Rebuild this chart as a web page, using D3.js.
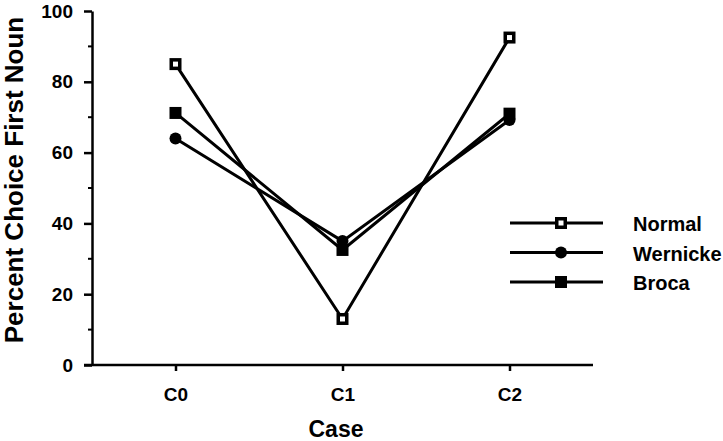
<!DOCTYPE html>
<html>
<head>
<meta charset="utf-8">
<script src="https://cdn.jsdelivr.net/npm/d3@7"></script>
<style>
  body { margin: 0; background: #fff; }
  text { font-family: "Liberation Sans", Arial, sans-serif; font-weight: bold; fill: #000; }
</style>
</head>
<body>
<div id="chart"></div>
<script>
var cases = ["C0", "C1", "C2"];
var normal = [85, 13, 92.5];
var wernicke = [64, 35, 69.2];
var broca = [71.2, 32.5, 71];
var yTicks = [0, 20, 40, 60, 80, 100];
var yMinor = [10, 30, 50, 70, 90];

var width = 723, height = 441;

var svg = d3.select("#chart").append("svg")
    .attr("width", width)
    .attr("height", height);

var x = d3.scalePoint().domain(cases).range([92, 593]).padding(0.5);
var y = d3.scaleLinear().domain([0, 100]).range([365, 11]);

// y axis: major ticks out, short minor ticks
var yAxis = svg.append("g")
    .attr("transform", "translate(92,0)")
    .call(d3.axisLeft(y).tickValues(yTicks).tickSize(8).tickSizeOuter(0).tickPadding(11));
yAxis.select(".domain").attr("stroke-width", 2.5);
yAxis.selectAll(".tick line").attr("stroke-width", 2.5);
yAxis.selectAll(".tick text").style("font-size", "19px");

svg.append("g").selectAll("line")
    .data(yMinor)
    .enter().append("line")
    .attr("x1", 88).attr("x2", 93)
    .attr("y1", function(d) { return y(d); })
    .attr("y2", function(d) { return y(d); })
    .attr("stroke", "#000").attr("stroke-width", 2);

// x axis
var xAxis = svg.append("g")
    .attr("transform", "translate(0,365)")
    .call(d3.axisBottom(x).tickSize(6).tickSizeOuter(0).tickPadding(17));
xAxis.select(".domain").attr("d", "M84,0H593").attr("stroke-width", 2.5);
xAxis.selectAll(".tick line").attr("stroke-width", 2.5);
xAxis.selectAll(".tick text").style("font-size", "19px");

svg.append("text")
    .attr("transform", "translate(23,180) rotate(-90)")
    .attr("text-anchor", "middle")
    .style("font-size", "26px")
    .text("Percent Choice First Noun");

svg.append("text")
    .attr("x", 336).attr("y", 437)
    .attr("text-anchor", "middle")
    .style("font-size", "23px")
    .text("Case");

var series = [
  { name: "Normal", values: normal, shape: "open" },
  { name: "Wernicke", values: wernicke, shape: "circle" },
  { name: "Broca", values: broca, shape: "square" }
];

var line = d3.line()
    .x(function(d, i) { return x(cases[i]); })
    .y(function(d) { return y(d); });

function marker(g, shape, cx, cy) {
  if (shape === "circle") {
    g.append("circle").attr("cx", cx).attr("cy", cy).attr("r", 6).attr("fill", "#000");
  } else if (shape === "square") {
    g.append("rect").attr("x", cx - 6).attr("y", cy - 6).attr("width", 12).attr("height", 12).attr("fill", "#000");
  } else {
    g.append("rect").attr("x", cx - 6).attr("y", cy - 6).attr("width", 12).attr("height", 12).attr("fill", "#000");
    g.append("rect").attr("x", cx - 2.5).attr("y", cy - 2.5).attr("width", 5).attr("height", 5).attr("fill", "#fff");
  }
}

series.forEach(function(s) {
  svg.append("path")
      .attr("d", line(s.values))
      .attr("fill", "none")
      .attr("stroke", "#000")
      .attr("stroke-width", 3);
});
series.forEach(function(s) {
  var g = svg.append("g");
  s.values.forEach(function(v, i) { marker(g, s.shape, x(cases[i]), y(v)); });
});

// legend
var legend = svg.append("g");
series.forEach(function(s, i) {
  var ly = 223 + i * 29.5;
  legend.append("line")
      .attr("x1", 510).attr("x2", 603)
      .attr("y1", ly).attr("y2", ly)
      .attr("stroke", "#000").attr("stroke-width", 3);
  marker(legend, s.shape, 561, ly);
  legend.append("text")
      .attr("x", 633).attr("y", ly + 8)
      .style("font-size", "20px")
      .text(s.name);
});
</script>
</body>
</html>
